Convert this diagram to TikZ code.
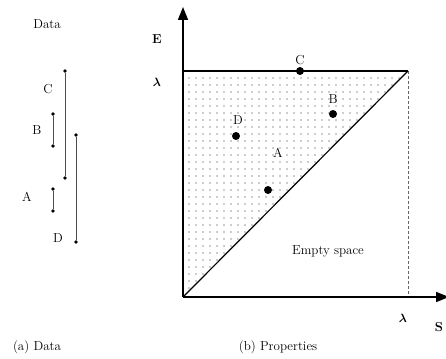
\documentclass[tikz,border=0pt]{standalone}
\usepackage{amsmath}
\usetikzlibrary{arrows.meta,patterns.meta}
\tikzset{
  endpt/.style={circle,fill,inner sep=0pt,minimum size=3.8pt},
  point/.style={circle,fill,inner sep=0pt,minimum size=8pt},
  interval/.style={draw=black!70,line width=1pt},
  axis/.style={line width=1.6pt,-{Triangle[length=13pt,width=10pt]}},
  lbl/.style={font=\fontsize{13}{15}\selectfont,inner sep=1pt}
}
\begin{document}
\begin{tikzpicture}[x=1pt,y=-1pt]
\useasboundingbox (0,0) rectangle (446,358);
\node[lbl] (data) at (47,24) {Data};
\node[endpt] (c1) at (65,71) {};
\node[endpt] (c2) at (65,178) {};
\node[endpt] (b1) at (53,114) {};
\node[endpt] (b2) at (53,146) {};
\node[endpt] (d1) at (76,135) {};
\node[endpt] (d2) at (76,242) {};
\node[endpt] (a1) at (53,189) {};
\node[endpt] (a2) at (53,211) {};
\draw[interval] (c1) -- (c2);
\draw[interval] (b1) -- (b2);
\draw[interval] (d1) -- (d2);
\draw[interval] (a1) -- (a2);
\node[lbl] (lc) at (48,89) {C};
\node[lbl] (lb) at (37,130) {B};
\node[lbl] (la) at (27,197) {A};
\node[lbl] (ld) at (58,238) {D};
\node[lbl] (capa) at (37,347) {(a) Data};

\coordinate (O) at (183,297);
\coordinate (ytop) at (183,7);
\coordinate (xend) at (449,297);
\coordinate (ylam) at (183,71);
\coordinate (corner) at (408,71);
\coordinate (xlam) at (408,297);
\fill[pattern={Dots[radius=0.6pt,distance=7pt]},pattern color=black!85] (ylam) -- (corner) -- (O) -- cycle;
\draw[black!60,densely dashed,line width=0.8pt] (corner) -- (xlam);
\draw[line width=1.6pt] (ylam) -- (corner);
\draw[line width=1.2pt] (O) -- (corner);
\draw[axis] (O) -- (ytop);
\draw[axis] (O) -- (xend);
\node[lbl] (E) at (157,39) {\textbf{E}};
\node[lbl] (lamy) at (157,82) {$\boldsymbol{\lambda}$};
\node[lbl] (lamx) at (403,318) {$\boldsymbol{\lambda}$};
\node[lbl] (S) at (439,327) {\textbf{S}};
\node[point] (C) at (300,71) {};
\node[point] (B) at (333,114) {};
\node[point] (D) at (236,136) {};
\node[point] (A) at (268,190) {};
\node[lbl] at (300,60) {C};
\node[lbl] at (333,99) {B};
\node[lbl] at (238,120) {D};
\node[lbl] at (278,153) {A};
\node[lbl] (empty) at (328,251) {Empty space};
\node[lbl] (capb) at (278,347) {(b) Properties};
\end{tikzpicture}
\end{document}
